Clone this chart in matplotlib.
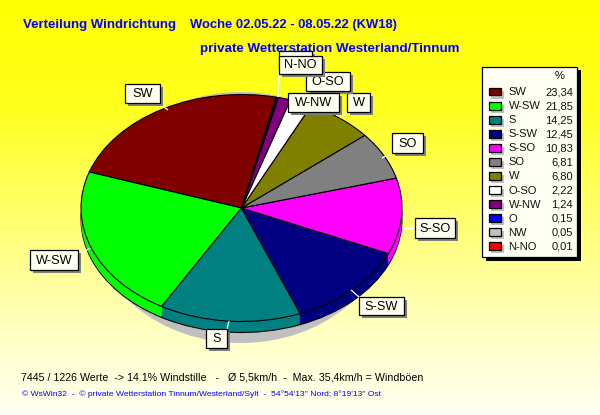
import numpy as np
import matplotlib
matplotlib.use("Agg")
import matplotlib.pyplot as plt
from matplotlib.patches import Rectangle, Ellipse
from matplotlib.colors import LinearSegmentedColormap

directions = ["SW", "W-SW", "S", "S-SW", "S-SO", "SO", "W", "O-SO", "W-NW", "O", "NW", "N-NO"]
shares = [23.34, 21.85, 14.25, 12.45, 10.83, 6.81, 6.80, 2.22, 1.24, 0.15, 0.05, 0.01]
share_labels = ["23,34", "21,85", "14,25", "12,45", "10,83", "6,81", "6,80", "2,22", "1,24", "0,15", "0,05", "0,01"]
colors = ["#800000", "#00ff00", "#008080", "#000080", "#ff00ff", "#808080",
          "#808000", "#ffffff", "#800080", "#0000ff", "#c0c0c0", "#ff0000"]

W, H = 600, 415
FONT = "Liberation Sans"
fig = plt.figure(figsize=(6, 4.15), dpi=100)

# background gradient
bg = fig.add_axes([0, 0, 1, 1], zorder=0)
bg.set_axis_off()
cmap = LinearSegmentedColormap.from_list("bg", ["#ffff00", "#ffff1d", "#ffff67", "#ffffb4", "#fffff4"])
bg.imshow(np.linspace(0, 1, 256).reshape(-1, 1), aspect="auto", cmap=cmap, extent=(0, W, H, 0))
bg.set_xlim(0, W); bg.set_ylim(H, 0)
bg.add_patch(Ellipse((241, 217.5), 300, 251, fc="#c0c0c0", ec="none"))

# pie: unit circle mapped on the ellipse
cx, cy, rx, ry, depth = 241.5, 208, 160.5, 113.5, 11
top_y, bot_y = cy - ry * 1.1, cy + ry * 1.3
pa = fig.add_axes([(cx - rx * 1.1) / W, 1 - bot_y / H, rx * 2.2 / W, (bot_y - top_y) / H], zorder=1)
start = 77.5
for d in list(range(depth, 0, -1)) + [0]:
    last = d in (0, depth)
    off = -d / ry
    wedges, _ = pa.pie(shares, colors=colors, startangle=start, counterclock=True, center=(0, off), radius=1,
                       wedgeprops=dict(linewidth=0.8 if last else 0, edgecolor="black"))
pa.set_aspect("auto")
pa.set_xlim(-1.1, 1.1); pa.set_ylim(-1.3, 1.1)
pa.set_axis_off()

# overlay in pixels
ov = fig.add_axes([0, 0, 1, 1], zorder=2)
ov.set_xlim(0, W); ov.set_ylim(H, 0)
ov.set_axis_off(); ov.patch.set_alpha(0)

def box(x0, y0, x1, y1, fc="#fffff0", sh=3, z=3, shc="#808080"):
    ov.add_patch(Rectangle((x0 + sh, y0 + sh), x1 - x0, y1 - y0, fc=shc, ec="none", zorder=z))
    ov.add_patch(Rectangle((x0, y0), x1 - x0, y1 - y0, fc=fc, ec="black", lw=0.9, zorder=z + 0.1))

slice_labels = [
    ("SW", 125, 84, 160, 103, (160, 104, 168, 110)),
    ("W-SW", 30, 250, 78, 270, (78, 256, 90, 248)),
    ("S", 206, 329, 227, 348, (227, 329, 229, 321)),
    ("S-SW", 359, 297, 404, 315, (359, 297, 351, 290)),
    ("S-SO", 415, 218, 455, 238, (415, 228, 402, 228)),
    ("SO", 392, 133, 423, 153, (392, 153, 382, 158)),
    ("W", 347, 93, 370, 112, (347, 112, 340, 118)),
    ("O-SO", 306, 72, 350, 91, (306, 91, 292, 100)),
    ("W-NW", 288, 93, 339, 112, (288, 112, 285, 116)),
    ("", 279, 51, 312, 69, (279, 69, 278, 97)),
    ("N-NO", 279, 56, 322, 74, (279, 74, 278, 97)),
]
for i, (t, x0, y0, x1, y1, (lx0, ly0, lx1, ly1)) in enumerate(slice_labels):
    ov.plot([lx0, lx1], [ly0, ly1], color="white", lw=0.9, zorder=2.5, solid_capstyle="butt")
    z = 3 + i * 0.2
    box(x0, y0, x1, y1, z=z)
    if t:
        ov.text((x0 + x1) / 2, (y0 + y1) / 2 + 0.5, t, ha="center", va="center", fontsize=9.2,
                family=FONT, color="black", zorder=z + 0.15)

# legend
box(482, 67, 577, 257, fc="#fffff4", sh=3.5, shc="black", z=6)
ov.text(560, 76, "%", ha="center", va="center", fontsize=8, family=FONT, zorder=7)
for i, (d, s, c) in enumerate(zip(directions, share_labels, colors)):
    y = 92 + i * 14.03
    ov.add_patch(Rectangle((491, y - 1), 13, 8, fc="#c0c0c0", ec="none", zorder=6.5))
    ov.add_patch(Rectangle((488.5, y - 4), 12.5, 7.5, fc=c, ec="black", lw=0.9, zorder=6.6))
    ov.text(508.5, y + 0.3, d, ha="left", va="center", fontsize=8, family=FONT, color="#111111", zorder=7)
    ov.text(573, y + 0.3, s, ha="right", va="center", fontsize=8, family=FONT, color="#111111", zorder=7)

# titles and footer
ov.text(23, 25, "Verteilung Windrichtung", color="#0000ff",
        fontsize=9.5, fontweight="bold", family=FONT, ha="left", va="center", zorder=2)
ov.text(190, 25, "Woche 02.05.22 - 08.05.22 (KW18)", color="#0000ff",
        fontsize=9.35, fontweight="bold", family=FONT, ha="left", va="center", zorder=2)
ov.text(200, 49, "private Wetterstation Westerland/Tinnum", color="#0000ff",
        fontsize=9.6, fontweight="bold", family=FONT, ha="left", va="center", zorder=2)
ov.text(21, 377, "7445 / 1226 Werte  -> 14.1% Windstille   -   Ø 5,5km/h  -  Max. 35,4km/h = Windböen",
        color="black", fontsize=7.65, family=FONT, ha="left", va="center")
ov.text(22, 394.5, "© WsWin32  -  © private Wetterstation Tinnum/Westerland/Sylt  -  54°54'13'' Nord; 8°19'13'' Ost",
        color="#0000ff", fontsize=6.1, family=FONT, ha="left", va="center")

fig.savefig("out.png", dpi=100)
